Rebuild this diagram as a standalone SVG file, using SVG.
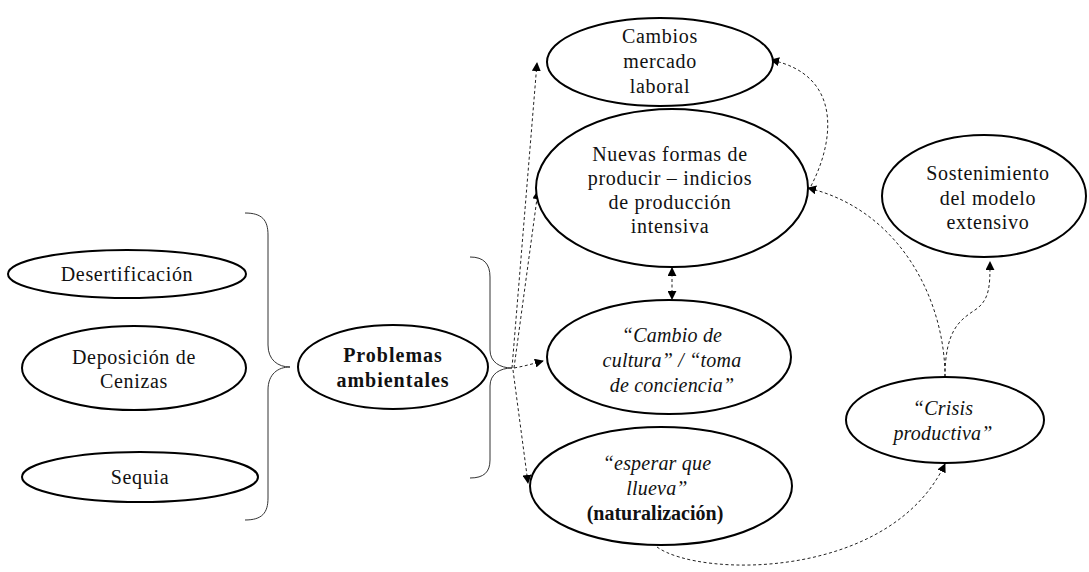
<svg xmlns="http://www.w3.org/2000/svg" width="1089" height="572" viewBox="0 0 1089 572">
<style>
.n{fill:#fff;stroke:#000;stroke-width:2}
.t{font-family:"Liberation Serif","Times New Roman",serif;font-size:20px;letter-spacing:0.7px;fill:#111;text-anchor:middle}
.b{font-weight:bold;letter-spacing:1px}
.i{font-style:italic;letter-spacing:0.2px}
.br{fill:none;stroke:#333;stroke-width:1}
.c{fill:none;stroke:#222;stroke-width:1;stroke-dasharray:3 2.5}
</style>
<defs>
<marker id="ah" viewBox="0 0 10 10" refX="9" refY="5" markerWidth="9" markerHeight="9" markerUnits="userSpaceOnUse" orient="auto-start-reverse"><path d="M0,0 L10,5 L0,10 z" fill="#000"/></marker>
</defs>
<rect width="1089" height="572" fill="#fff"/>
<g id="braces">
<path class="br" d="M245,213 C262,213 268,220 268,235 L268,345 C268,360 278,367 290,367 C278,367 268,374 268,390 L268,498 C268,513 262,520 245,520"/>
<path class="br" d="M470,257 C484,257 490,264 490,277 L490,350 C490,362 500,368 512,368 C500,368 490,374 490,386 L490,460 C490,472 484,478 470,478"/>
</g>
<g id="connectors">
<path class="c" marker-end="url(#ah)" d="M512,368 L537,63"/>
<path class="c" marker-end="url(#ah)" d="M514,368 L538,191"/>
<path class="c" marker-end="url(#ah)" d="M514,368 C525,366 532,364 543,361"/>
<path class="c" marker-end="url(#ah)" d="M513,370 L528,483"/>
<path class="c" marker-start="url(#ah)" marker-end="url(#ah)" d="M672,268 L672,299"/>
<path class="c" marker-end="url(#ah)" d="M945,377 C945,300 900,210 808,188"/>
<path class="c" marker-end="url(#ah)" d="M945,377 C945,330 960,320 975,310 C990,300 990,285 990,262"/>
<path class="c" marker-end="url(#ah)" d="M811,186 C835,140 842,75 771,60"/>
<path class="c" marker-end="url(#ah)" d="M657,547 C700,578 890,580 945,464"/>
</g>
<g id="desertificacion">
<ellipse class="n" cx="127" cy="274" rx="119" ry="24"/>
<text class="t" x="127" y="281">Desertificación</text>
</g>
<g id="deposicion">
<ellipse class="n" cx="134" cy="368" rx="112" ry="42"/>
<text class="t" x="134" y="364">Deposición de</text>
<text class="t" x="134" y="388">Cenizas</text>
</g>
<g id="sequia">
<ellipse class="n" cx="140" cy="477" rx="118" ry="25"/>
<text class="t" x="140" y="484">Sequia</text>
</g>
<g id="problemas">
<ellipse class="n" cx="393" cy="367" rx="95" ry="42"/>
<text class="t b" x="393" y="362">Problemas</text>
<text class="t b" x="393" y="387">ambientales</text>
</g>
<g id="cambios">
<ellipse class="n" cx="660" cy="62" rx="113" ry="44"/>
<text class="t" x="660" y="43">Cambios</text>
<text class="t" x="660" y="68">mercado</text>
<text class="t" x="660" y="93">laboral</text>
</g>
<g id="nuevas">
<ellipse class="n" cx="672" cy="188" rx="136" ry="79"/>
<text class="t" x="670" y="161">Nuevas formas de</text>
<text class="t" x="670" y="185">producir – indicios</text>
<text class="t" x="670" y="209">de producción</text>
<text class="t" x="670" y="233">intensiva</text>
</g>
<g id="cultura">
<ellipse class="n" cx="669" cy="357" rx="122" ry="57"/>
<text class="t i" x="672" y="342">“Cambio de</text>
<text class="t i" x="672" y="367">cultura” / “toma</text>
<text class="t i" x="672" y="392">de conciencia”</text>
</g>
<g id="esperar">
<ellipse class="n" cx="661" cy="486" rx="131" ry="59"/>
<text class="t i" x="657" y="470">“esperar que</text>
<text class="t i" x="657" y="495">llueva”</text>
<text class="t b" x="655" y="520" style="letter-spacing:0">(naturalización)</text>
</g>
<g id="sostenimiento">
<ellipse class="n" cx="984" cy="196" rx="102" ry="61"/>
<text class="t" x="988" y="180">Sostenimiento</text>
<text class="t" x="988" y="205">del modelo</text>
<text class="t" x="988" y="229">extensivo</text>
</g>
<g id="crisis">
<ellipse class="n" cx="945" cy="420" rx="99" ry="43"/>
<text class="t i" x="943" y="415">“Crisis</text>
<text class="t i" x="943" y="440">productiva”</text>
</g>
</svg>
